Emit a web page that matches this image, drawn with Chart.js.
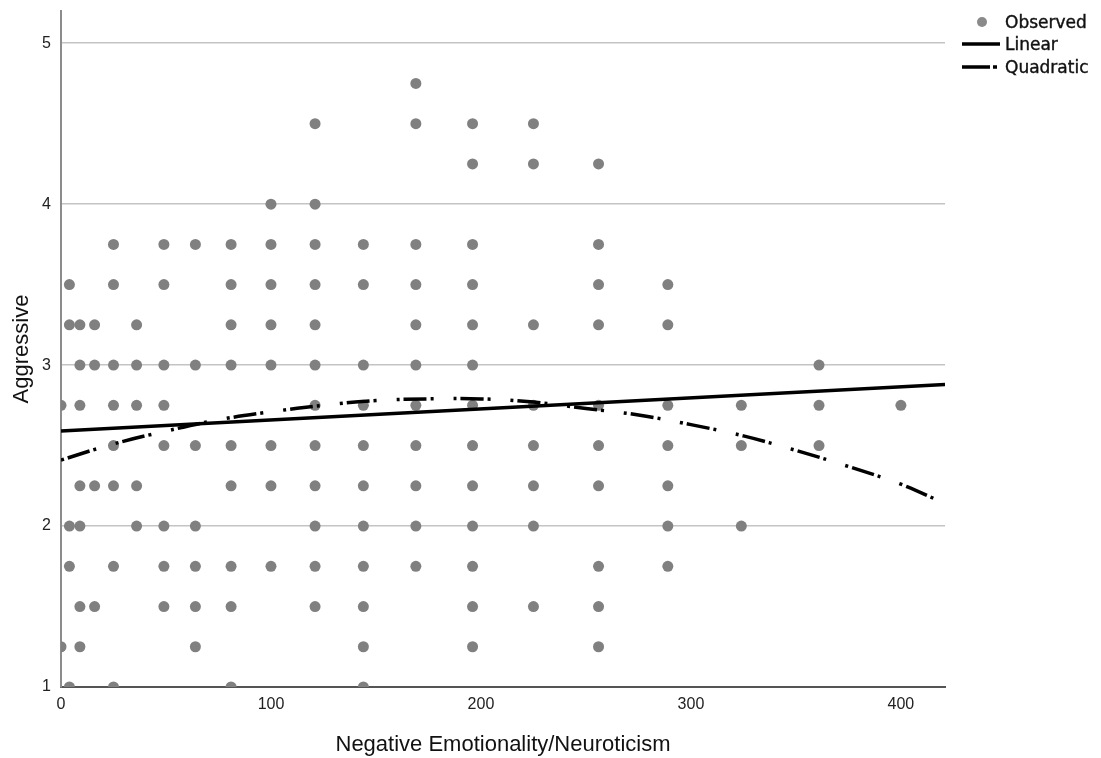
<!DOCTYPE html>
<html>
<head>
<meta charset="utf-8">
<script src="https://cdn.jsdelivr.net/npm/chart.js@4.4.1/dist/chart.umd.min.js"></script>
<style>
body{margin:0;background:#fff}
canvas{display:block}
</style>
</head>
<body>
<canvas id="c" width="1101" height="758"></canvas>
<script>

// neuroticism score columns and the aggressive scores observed at each
const neuroticism = [0,4,9,16,25,36,49,64,81,100,121,144,169,196,225,256,289,324,361,400]
const aggressive = [
  [2.75,1.25],
  [3.5,3.25,2,1.75,1],
  [3.25,3,2.75,2.25,2,1.5,1.25],
  [3.25,3,2.25,1.5],
  [3.75,3.5,3,2.75,2.5,2.25,1.75,1],
  [3.25,3,2.75,2.25,2],
  [3.75,3.5,3,2.75,2.5,2,1.75,1.5],
  [3.75,3,2.5,2,1.75,1.5,1.25],
  [3.75,3.5,3.25,3,2.5,2.25,1.75,1.5,1],
  [4,3.75,3.5,3.25,3,2.5,2.25,1.75],
  [4.5,4,3.75,3.5,3.25,3,2.75,2.5,2.25,2,1.75,1.5],
  [3.75,3.5,3,2.75,2.5,2.25,2,1.75,1.5,1.25,1],
  [4.75,4.5,3.75,3.5,3.25,3,2.75,2.5,2.25,2,1.75],
  [4.5,4.25,3.75,3.5,3.25,3,2.75,2.5,2.25,2,1.75,1.5,1.25],
  [4.5,4.25,3.25,2.75,2.5,2.25,2,1.5],
  [4.25,3.75,3.5,3.25,2.75,2.5,2.25,1.75,1.5,1.25],
  [3.5,3.25,2.75,2.5,2.25,2,1.75],
  [2.75,2.5,2],
  [3,2.75,2.5],
  [2.75]
]

// fitted curves
const linearX = [0,421]
const linearY = [2.59,2.88]
const quadX = [0,25,50,75,100,125,150,175,200,225,250,275,300,325,350,375,400,421]
const quadY = [2.41,2.51,2.59,2.66,2.71,2.75,2.78,2.79,2.79,2.77,2.73,2.69,2.63,2.56,2.47,2.37,2.26,2.14]

const xTicks = [0,100,200,300,400]
const yTicks = [1,2,3,4,5]

const observed = []
neuroticism.forEach((x,i)=>{
  aggressive[i].forEach(y=>observed.push({x:x,y:y}))
})

const toPoints = (xs,ys)=>xs.map((x,i)=>({x:x,y:ys[i]}))

/* ===== legend drawn at top right ===== */

const legendPlugin = {
  id:"sideLegend",
  afterDraw(chart){
    const ctx = chart.ctx
    ctx.save()
    ctx.fillStyle = "#8a8a8a"
    ctx.beginPath()
    ctx.arc(982,22,5,0,Math.PI*2)
    ctx.fill()

    ctx.strokeStyle = "#000"
    ctx.lineWidth = 3.5
    ctx.beginPath()
    ctx.moveTo(962,44)
    ctx.lineTo(1000,44)
    ctx.stroke()

    ctx.setLineDash([28,3,4,100])
    ctx.beginPath()
    ctx.moveTo(962,67)
    ctx.lineTo(1000,67)
    ctx.stroke()
    ctx.setLineDash([])

    ctx.fillStyle = "#111"
    ctx.strokeStyle = "#111"
    ctx.lineWidth = 0.4
    ctx.font = "17px 'DejaVu Sans'"
    ctx.textBaseline = "middle"
    ctx.textAlign = "left"
    const rows = [["Observed",24],["Linear",46],["Quadratic",69]]
    rows.forEach(r=>{
      ctx.fillText(r[0],1005,r[1])
      ctx.strokeText(r[0],1005,r[1])
    })
    ctx.restore()
  }
}

new Chart(document.getElementById("c"),{
  type:"scatter",
  data:{
    datasets:[
      {
        label:"Observed",
        data:observed,
        pointRadius:5.5,
        pointHoverRadius:5.5,
        pointBackgroundColor:"#808080",
        pointBorderWidth:0,
        clip:0,
        order:3
      },
      {
        label:"Linear",
        type:"line",
        data:toPoints(linearX,linearY),
        borderColor:"#000",
        borderWidth:3.5,
        pointRadius:0,
        fill:false,
        clip:0,
        order:2
      },
      {
        label:"Quadratic",
        type:"line",
        data:toPoints(quadX,quadY),
        borderColor:"#000",
        borderWidth:3.5,
        borderDash:[3,4,23,4,3,20],
        borderCapStyle:"butt",
        pointRadius:0,
        tension:0.4,
        fill:false,
        clip:0,
        order:1
      }
    ]
  },
  options:{
    responsive:false,
    animation:false,
    layout:{padding:{top:11,right:156,left:0,bottom:0}},
    plugins:{
      legend:{display:false},
      tooltip:{enabled:false}
    },
    scales:{
      x:{
        type:"linear",
        min:0,
        max:421,
        afterFit(scale){
          scale.height = 71
          scale.paddingLeft = 0
          scale.paddingRight = 0
        },
        afterBuildTicks(scale){ scale.ticks = xTicks.map(v=>({value:v})) },
        grid:{display:false, drawTicks:false},
        border:{color:"#555",width:2},
        ticks:{
          includeBounds:false,
          padding:8,
          color:"#222",
          font:{family:"'Liberation Sans'",size:16}
        },
        title:{
          display:true,
          text:"Negative Emotionality/Neuroticism",
          color:"#111",
          padding:{top:0,bottom:0},
          font:{family:"'Liberation Sans'",size:22}
        }
      },
      y:{
        min:1,
        max:5.2,
        afterFit(scale){
          scale.width = 61
          scale.paddingTop = 0
          scale.paddingBottom = 0
        },
        afterBuildTicks(scale){ scale.ticks = yTicks.map(v=>({value:v})) },
        grid:{color:"#c4c4c4",lineWidth:1.5,drawTicks:false},
        border:{color:"#8c8c8c",width:2},
        ticks:{
          includeBounds:false,
          padding:10,
          color:"#222",
          font:{family:"'Liberation Sans'",size:16}
        },
        title:{
          display:true,
          text:"Aggressive",
          color:"#111",
          padding:{top:9,bottom:0},
          font:{family:"'Liberation Sans'",size:22}
        }
      }
    }
  },
  plugins:[legendPlugin]
})

</script>
</body>
</html>
